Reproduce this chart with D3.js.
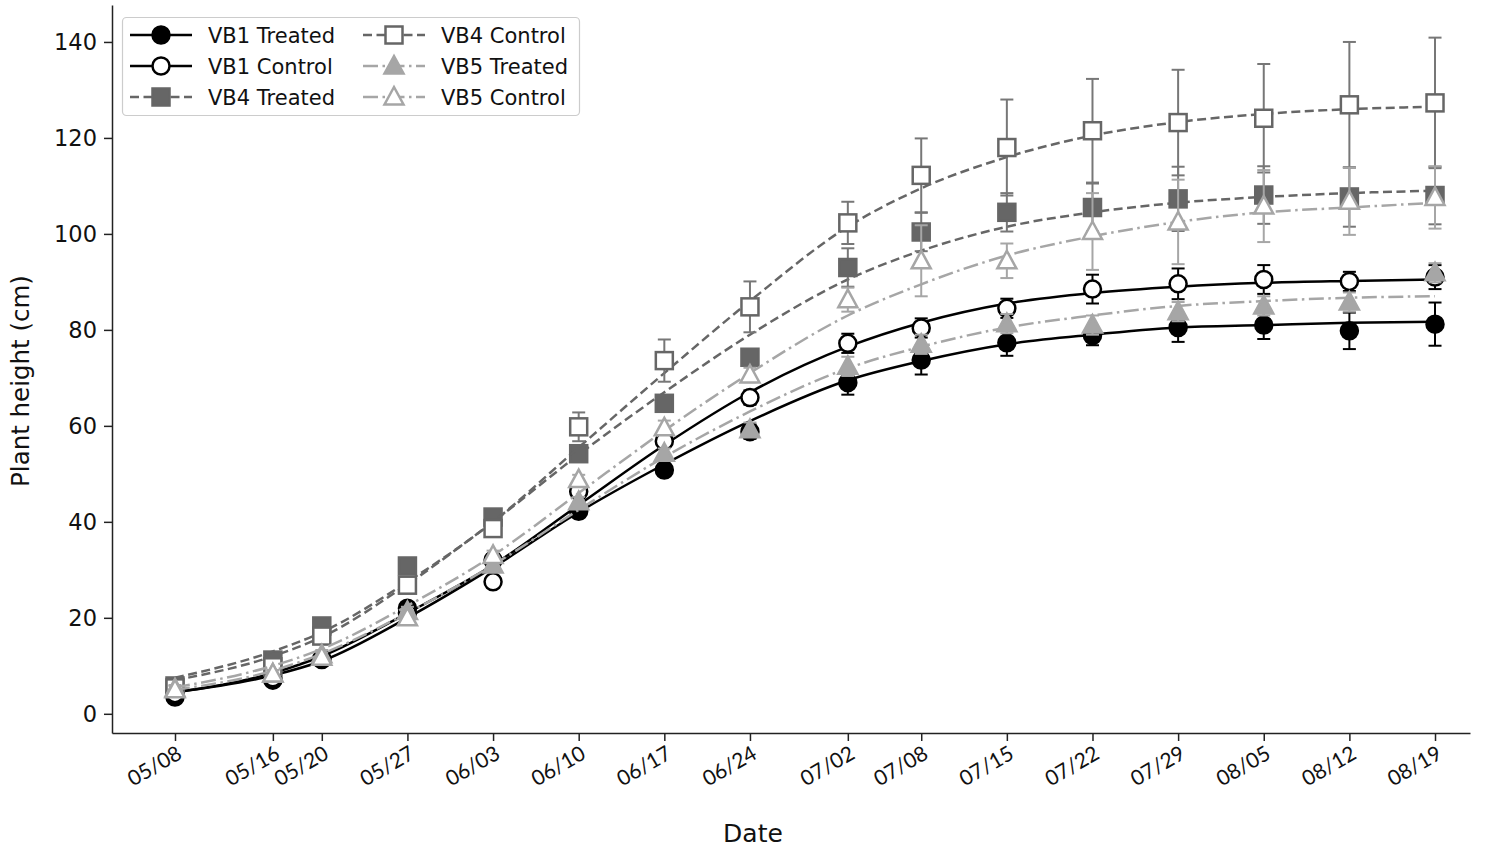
<!DOCTYPE html>
<html><head><meta charset="utf-8">
<script src="https://cdn.jsdelivr.net/npm/d3@7"></script>
<style>body{margin:0;background:#fff}</style>
</head><body><svg id="c" width="1503" height="851"></svg>
<script>
// ---------- data ----------
const dateLabels = ["05/08","05/16","05/20","05/27","06/03","06/10","06/17","06/24","07/02","07/08","07/15","07/22","07/29","08/05","08/12","08/19"];
const yTicks = [0,20,40,60,80,100,120,140];
const seriesNames = ["VB1 Treated","VB1 Control","VB4 Treated","VB4 Control","VB5 Treated","VB5 Control"];

const vb1TreatedMean = [3.5,7.0,11.3,22.0,32.0,42.2,50.8,58.8,69.0,73.7,77.3,78.8,80.5,81.0,79.8,81.2];
const vb1TreatedErr  = [0.8,0.8,1.0,1.0,1.0,1.0,1.0,1.5,2.5,3.0,2.7,2.0,3.0,2.9,3.8,4.5];
const vb1TreatedFit  = [4.5,8.0,11.0,20.0,30.5,42.0,52.0,61.0,69.5,73.5,77.0,79.0,80.5,81.0,81.5,81.7];

const vb1ControlMean = [4.2,7.5,11.5,21.0,27.5,46.3,56.8,65.9,77.2,80.4,84.5,88.5,89.6,90.5,90.1,91.0];
const vb1ControlErr  = [0.8,0.8,1.0,1.0,1.0,1.0,1.0,1.5,2.0,2.0,2.0,3.0,3.2,3.0,2.0,2.5];
const vb1ControlFit  = [4.5,8.5,12.0,21.0,31.0,43.5,56.0,67.0,76.5,81.5,85.5,87.7,89.0,89.8,90.2,90.5];

const vb4TreatedMean = [5.8,11.2,18.3,30.8,41.0,54.2,64.7,74.3,93.0,100.4,104.5,105.5,107.3,108.1,107.7,108.0];
const vb4TreatedErr  = [0.8,0.8,1.0,1.0,1.0,1.0,1.5,1.5,4.0,4.0,4.0,5.0,6.7,6.0,6.2,6.0];
const vb4TreatedFit  = [7.0,12.0,16.0,27.0,40.0,54.0,67.0,79.0,90.5,96.5,101.5,104.5,106.5,107.7,108.5,109.0];

const vb4ControlMean = [5.4,9.8,16.2,26.8,38.6,59.8,73.6,84.8,102.3,112.2,118.0,121.5,123.2,124.1,126.9,127.3];
const vb4ControlErr  = [0.8,0.8,1.0,1.0,1.0,3.0,4.4,5.3,4.4,7.7,10.0,10.8,11.0,11.3,13.1,13.6];
const vb4ControlFit  = [7.5,13.0,17.0,27.5,40.0,55.5,71.0,86.0,101.5,109.5,116.0,120.5,123.3,125.0,126.0,126.5];

const vb5TreatedMean = [5.2,8.3,12.3,21.3,31.0,44.2,54.3,59.2,72.4,77.0,81.3,81.0,83.8,85.0,85.8,91.9];
const vb5TreatedErr  = [0.8,0.8,1.0,1.0,1.0,1.0,1.0,1.5,2.0,2.0,2.0,2.0,2.0,2.0,2.0,2.0];
const vb5TreatedFit  = [5.0,9.0,12.5,21.0,31.0,42.5,53.5,63.0,72.0,76.5,80.5,83.0,85.0,86.0,86.7,87.0];

const vb5ControlMean = [5.0,8.3,11.8,20.0,33.0,48.8,59.6,70.6,86.3,94.4,94.4,100.5,102.5,105.8,106.8,107.6];
const vb5ControlErr  = [0.8,0.8,1.0,1.0,1.0,1.0,1.5,1.5,2.5,7.4,3.6,8.0,8.8,7.5,7.0,6.5];
const vb5ControlFit  = [5.5,10.0,13.5,22.5,33.0,46.0,59.0,71.0,83.0,89.5,95.5,99.5,102.5,104.5,105.5,106.5];

// ---------- setup ----------
const svg = d3.select("#c");
const parse = d3.timeParse("%Y/%m/%d");
const dates = dateLabels.map(d => parse("2021/" + d));
const DAY = 864e5;
const x = d3.scaleTime()
  .domain([new Date(dates[0].getTime() - 5.15*DAY), new Date(dates[dates.length-1].getTime() + 2.86*DAY)])
  .range([112, 1470]);
const y = d3.scaleLinear().domain([-4, 147.7]).range([733, 5]);

const C1 = "#000000", C4 = "#666666", C5 = "#a6a6a6";
const DASH = "9,4.5", DASHDOT = "15,4.5,2.5,4.5";
const styles = [
  {color:C1, fill:C1, shape:"circle", dash:null},
  {color:C1, fill:"#fff", shape:"circle", dash:null},
  {color:C4, fill:C4, shape:"square", dash:DASH},
  {color:C4, fill:"#fff", shape:"square", dash:DASH},
  {color:C5, fill:C5, shape:"triangle", dash:DASHDOT},
  {color:C5, fill:"#fff", shape:"triangle", dash:DASHDOT}
];
const means = [vb1TreatedMean, vb1ControlMean, vb4TreatedMean, vb4ControlMean, vb5TreatedMean, vb5ControlMean];
const errs  = [vb1TreatedErr, vb1ControlErr, vb4TreatedErr, vb4ControlErr, vb5TreatedErr, vb5ControlErr];
const fits  = [vb1TreatedFit, vb1ControlFit, vb4TreatedFit, vb4ControlFit, vb5TreatedFit, vb5ControlFit];

// ---------- axes ----------
const gx = svg.append("g").attr("transform", "translate(0,733)")
  .call(d3.axisBottom(x).tickValues(dates).tickSize(8).tickSizeOuter(0).tickFormat((d,i) => dateLabels[i]));
gx.select(".domain").attr("stroke", "#222").attr("stroke-width", 1.5);
gx.selectAll(".tick line").attr("stroke", "#222").attr("stroke-width", 1.5);
gx.selectAll(".tick text")
  .attr("font-family", "Lato, 'Open Sans', sans-serif").attr("font-size", 21).attr("fill", "#111")
  .attr("text-anchor", "end").attr("x", 0).attr("y", 0).attr("dy", "0.75em")
  .attr("transform", "translate(0,11) rotate(-30)");

const gy = svg.append("g").attr("transform", "translate(112,0)")
  .call(d3.axisLeft(y).tickValues(yTicks).tickSize(8).tickSizeOuter(0).tickPadding(7));
gy.select(".domain").attr("stroke", "#222").attr("stroke-width", 1.5);
gy.selectAll(".tick line").attr("stroke", "#222").attr("stroke-width", 1.5);
gy.selectAll(".tick text").attr("font-family", "'DejaVu Sans', sans-serif").attr("font-size", 22.5).attr("fill", "#111");

svg.append("text").attr("x", 753).attr("y", 842).attr("text-anchor", "middle")
  .attr("font-family", "'DejaVu Sans', sans-serif").attr("font-size", 25).attr("fill", "#111").text("Date");
svg.append("text").attr("transform", "translate(29,381) rotate(-90)").attr("text-anchor", "middle")
  .attr("font-family", "'DejaVu Sans', sans-serif").attr("font-size", 24.5).attr("fill", "#111").text("Plant height (cm)");

// ---------- marker helper ----------
function marker(g, shape, cx, cy, st) {
  let m;
  if (shape === "circle") {
    m = g.append("circle").attr("cx", cx).attr("cy", cy).attr("r", 8.5);
  } else if (shape === "square") {
    m = g.append("rect").attr("x", cx-8.5).attr("y", cy-8.5).attr("width", 17).attr("height", 17);
  } else {
    m = g.append("path").attr("d", `M${cx},${cy-10}L${cx+9.5},${cy+7.5}L${cx-9.5},${cy+7.5}Z`);
  }
  m.attr("fill", st.fill).attr("stroke", st.color).attr("stroke-width", 2.5).attr("stroke-linejoin", "miter");
}

// ---------- series ----------
const line = d3.line().x(d => x(d[0])).y(d => y(d[1])).curve(d3.curveMonotoneX);
seriesNames.forEach((name, s) => {
  const st = styles[s];
  const g = svg.append("g");
  g.append("path").attr("d", line(dates.map((d,i) => [d, fits[s][i]])))
    .attr("fill", "none").attr("stroke", st.color).attr("stroke-width", 2.5)
    .attr("stroke-dasharray", st.dash);
  dates.forEach((d,i) => {
    const cx = x(d), lo = y(means[s][i] - errs[s][i]), hi = y(means[s][i] + errs[s][i]);
    const ec = s >= 2 && s <= 3 ? "#777" : st.color;
    g.append("line").attr("x1", cx).attr("x2", cx).attr("y1", lo).attr("y2", hi).attr("stroke", ec).attr("stroke-width", 2);
    [lo, hi].forEach(yy => g.append("line").attr("x1", cx-6.5).attr("x2", cx+6.5).attr("y1", yy).attr("y2", yy).attr("stroke", ec).attr("stroke-width", 2));
  });
  dates.forEach((d,i) => marker(g, st.shape, x(d), y(means[s][i]), st));
});

// ---------- legend ----------
const lg = svg.append("g");
lg.append("rect").attr("x", 122.5).attr("y", 17.5).attr("width", 457).attr("height", 98).attr("rx", 4)
  .attr("fill", "#fff").attr("fill-opacity", 0.85).attr("stroke", "#cccccc").attr("stroke-width", 1.2);
seriesNames.forEach((name, s) => {
  const st = styles[s];
  const col = Math.floor(s / 3), row = s % 3;
  const lx = col === 0 ? 130 : 363, ly = 35 + row * 31;
  lg.append("line").attr("x1", lx).attr("x2", lx + 62).attr("y1", ly).attr("y2", ly)
    .attr("stroke", st.color).attr("stroke-width", 2.5).attr("stroke-dasharray", st.dash);
  marker(lg, st.shape, lx + 31, ly, st);
  lg.append("text").attr("x", lx + 78).attr("y", ly).attr("dy", "0.36em")
    .attr("font-family", "'DejaVu Sans', sans-serif").attr("font-size", 21).attr("fill", "#111").text(name);
});
</script></body></html>
